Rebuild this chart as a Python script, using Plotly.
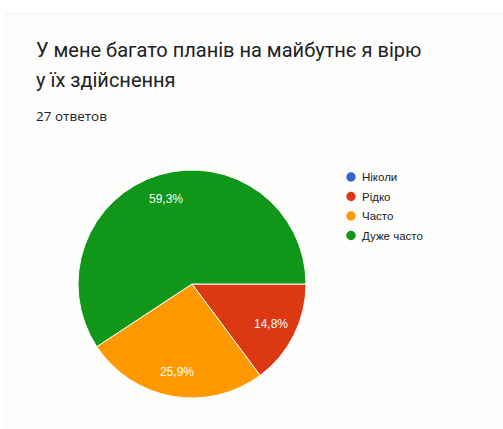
import math
import plotly.graph_objects as go

W, H = 503, 429

# Survey answers
categories = ["Ніколи", "Рідко", "Часто", "Дуже часто"]
counts = [0, 4, 7, 16]
colors = ["#3366cc", "#dc3912", "#ff9900", "#109618"]

title_lines = ["У мене багато планів на майбутнє я вірю", "у їх здійснення"]
subtitle = "27 ответов"

# Pie geometry in pixels
cx, cy, R = 192, 284, 114
start_deg = 90  # first slice starts at 3 o'clock, going clockwise


def px_x(x):
    return x / W


def px_y(y):
    return 1 - y / H


fig = go.Figure()

fig.add_trace(go.Pie(
    labels=categories,
    values=counts,
    sort=False,
    direction="clockwise",
    rotation=start_deg,
    marker=dict(colors=colors, line=dict(color="white", width=1)),
    textinfo="none",
    hoverinfo="label+value+percent",
    showlegend=False,
    domain=dict(x=[px_x(cx - R), px_x(cx + R)], y=[px_y(cy + R), px_y(cy - R)]),
))

annotations = []

# Percentage labels placed along each slice's mid-angle
total = sum(counts)
acc = 0
for v in counts:
    if v > 0:
        mid = start_deg + 360 * (acc + v / 2) / total
        r = 0.78 * R
        lx = cx + r * math.sin(math.radians(mid))
        ly = cy - r * math.cos(math.radians(mid))
        pct = f"{100 * v / total:.1f}".replace(".", ",") + "%"
        annotations.append(dict(
            x=px_x(lx), y=px_y(ly), xref="paper", yref="paper",
            text=pct, showarrow=False, xanchor="center", yanchor="middle",
            font=dict(family="Liberation Sans, Arial, sans-serif", size=12, color="white"),
        ))
    acc += v

# Title and response count
for i, line in enumerate(title_lines):
    annotations.append(dict(
        x=px_x(34), y=px_y(50 + 30 * i), xref="paper", yref="paper",
        text=line, showarrow=False, xanchor="left", yanchor="middle",
        font=dict(family="Roboto, sans-serif", size=20, color="#202124"),
    ))
annotations.append(dict(
    x=px_x(34), y=px_y(116), xref="paper", yref="paper",
    text=subtitle, showarrow=False, xanchor="left", yanchor="middle",
    font=dict(family="Open Sans, sans-serif", size=13.5, color="#202124"),
))

shapes = [
    # card background
    dict(type="rect", xref="paper", yref="paper",
         x0=px_x(6), x1=px_x(W + 2), y0=px_y(H + 2), y1=px_y(13),
         fillcolor="#fdfdfb", line=dict(color="#f3f3f1", width=1), layer="below"),
]

# Legend: coloured dots with category names
leg_x, leg_y0, leg_dy, dot_r = 351, 177, 19.5, 4.7
for i, (name, col) in enumerate(zip(categories, colors)):
    yy = leg_y0 + i * leg_dy
    shapes.append(dict(
        type="circle", xref="paper", yref="paper",
        x0=px_x(leg_x - dot_r), x1=px_x(leg_x + dot_r),
        y0=px_y(yy + dot_r), y1=px_y(yy - dot_r),
        fillcolor=col, line=dict(width=0),
    ))
    annotations.append(dict(
        x=px_x(leg_x + 9), y=px_y(yy), xref="paper", yref="paper",
        text=name, showarrow=False, xanchor="left", yanchor="middle",
        font=dict(family="Liberation Sans, Arial, sans-serif", size=11.5, color="#222222"),
    ))

fig.update_layout(
    width=W, height=H,
    margin=dict(l=0, r=0, t=0, b=0),
    paper_bgcolor="white",
    plot_bgcolor="white",
    annotations=annotations,
    shapes=shapes,
)

fig.write_html("out.html", config={"displayModeBar": False})
